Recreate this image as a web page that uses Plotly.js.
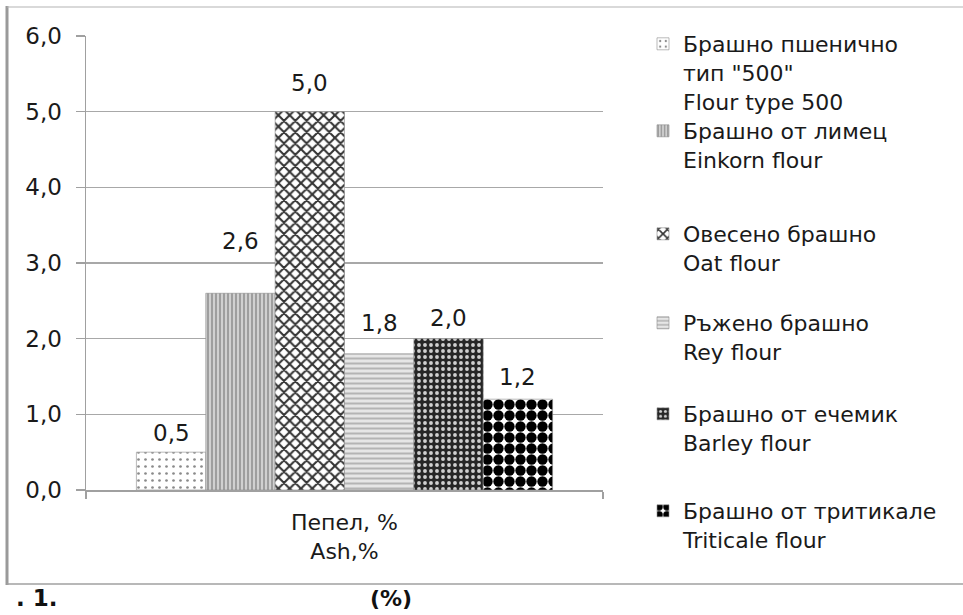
<!DOCTYPE html>
<html>
<head>
<meta charset="utf-8">
<script src="https://cdn.plot.ly/plotly-3.0.1.min.js"></script>
<style>
  html, body { margin: 0; padding: 0; background: #fff; }
  #chart { width: 963px; height: 615px; }
</style>
</head>
<body>
<div id="chart"></div>
<script>
// Ash content of six flours (%)
const category = ['Пепел, %<br>Ash,%'];
const flourNames = [
  'Брашно пшенично<br>тип "500"<br>Flour type 500',
  'Брашно от лимец<br>Einkorn flour',
  'Овесено брашно<br>Oat flour',
  'Ръжено брашно<br>Rey flour',
  'Брашно от ечемик<br>Barley flour',
  'Брашно от тритикале<br>Triticale flour'
];
const ashValues = [0.5, 2.6, 5.0, 1.8, 2.0, 1.2];
const yTickValues = [0, 1, 2, 3, 4, 5, 6];
const captionLeft = '. 1.';
const captionRight = '(%)';

// Monochrome hatch fills, one per flour
const fills = [
  { shape: '.', fgcolor: '#8a8a8a', bgcolor: '#ffffff', size: 7, solidity: 0.12 },
  { shape: '|', fgcolor: '#999999', bgcolor: '#d0d0d0', size: 4, solidity: 0.45 },
  { shape: 'x', fgcolor: '#333333', bgcolor: '#ffffff', size: 8, solidity: 0.45 },
  { shape: '-', fgcolor: '#b4b4b4', bgcolor: '#e6e6e6', size: 5, solidity: 0.4 },
  { shape: '.', fgcolor: '#d0d0d0', bgcolor: '#262626', size: 6, solidity: 0.32 },
  { shape: '.', fgcolor: '#000000', bgcolor: '#ffffff', size: 11, solidity: 0.7 }
];

// Plot-area geometry in pixels, used to place page furniture
const W = 963, H = 615;
const plotL = 86, plotR = 603, plotT = 36, plotB = 490;
const px = v => (v - plotL) / (plotR - plotL);
const py = v => (plotB - v) / (plotB - plotT);

const FONT = 'DejaVu Sans, Arial, sans-serif';
const fmt = v => v.toFixed(1).replace('.', ',');

const BARGAP = 0.195;
const barWidth = (1 - BARGAP) / flourNames.length;
// distance (px) of each value label above its bar
const labelLift = [19, 52, 29, 31, 21, 22];
const legendTops = [23, 110, 213, 302, 393, 490];

const traces = flourNames.map((name, i) => ({
  type: 'bar',
  name: name,
  x: category,
  y: [ashValues[i]],
  marker: {
    color: fills[i].bgcolor,
    pattern: Object.assign({ fillmode: 'overlay', fgopacity: 1 }, fills[i]),
    line: { color: '#8c8c8c', width: 0.6 }
  },
  legend: i === 0 ? 'legend' : 'legend' + (i + 1),
  hoverinfo: 'skip'
}));

// Value labels centred over each bar of the group
const valueLabels = ashValues.map((v, i) => ({
  xref: 'x', yref: 'y',
  x: -(1 - BARGAP) / 2 + (i + 0.5) * barWidth,
  y: v,
  yshift: labelLift[i],
  xanchor: 'center', yanchor: 'middle',
  text: fmt(v),
  showarrow: false,
  font: { family: FONT, size: 23, color: '#1a1a1a' }
}));

const layout = {
  width: W,
  height: H,
  margin: { l: plotL, r: W - plotR, t: plotT, b: H - plotB, pad: 0 },
  paper_bgcolor: '#ffffff',
  plot_bgcolor: '#ffffff',
  font: { family: FONT, color: '#1a1a1a' },
  barmode: 'group',
  bargap: BARGAP,
  bargroupgap: 0,
  separators: ', ',
  showlegend: true,
  xaxis: {
    type: 'category',
    showline: true,
    linecolor: '#a0a0a0',
    linewidth: 1.5,
    ticks: 'outside',
    tickson: 'boundaries',
    ticklen: 7,
    tickcolor: '#a0a0a0',
    tickwidth: 1.5,
    ticklabelstandoff: 12,
    tickfont: { family: FONT, size: 22, color: '#1a1a1a' },
    showgrid: false,
    fixedrange: true
  },
  yaxis: {
    range: [0, 6],
    tickvals: yTickValues,
    ticktext: yTickValues.map(fmt),
    showline: true,
    linecolor: '#a0a0a0',
    linewidth: 1.5,
    ticks: 'outside',
    ticklen: 9,
    tickcolor: '#a0a0a0',
    tickwidth: 1.5,
    ticklabelstandoff: 9,
    tickfont: { family: FONT, size: 23, color: '#1a1a1a' },
    showgrid: true,
    gridcolor: '#a8a8a8',
    gridwidth: 1.5,
    zeroline: false,
    fixedrange: true
  },
  shapes: [
    { type: 'line', xref: 'paper', yref: 'paper', x0: px(7), x1: px(7), y0: py(6), y1: py(585),
      line: { color: '#9a9a9a', width: 3 } },
    { type: 'line', xref: 'paper', yref: 'paper', x0: px(7), x1: px(W + 5), y0: py(7), y1: py(7),
      line: { color: '#b4b4b4', width: 1.2 } },
    { type: 'line', xref: 'paper', yref: 'paper', x0: px(7), x1: px(W + 5), y0: py(584), y1: py(584),
      line: { color: '#a0a0a0', width: 1.5 } }
  ],
  annotations: valueLabels.concat([
    { xref: 'paper', yref: 'paper', x: px(14), y: py(598), xanchor: 'left', yanchor: 'middle',
      text: '<b>' + captionLeft + '</b>', showarrow: false,
      font: { family: FONT, size: 23, color: '#111' } },
    { xref: 'paper', yref: 'paper', x: px(391), y: py(598), xanchor: 'center', yanchor: 'middle',
      text: '<b>' + captionRight + '</b>', showarrow: false,
      font: { family: FONT, size: 22, color: '#111' } }
  ])
};

// One legend box per flour so each entry sits at its own height
legendTops.forEach((top, i) => {
  const key = i === 0 ? 'legend' : 'legend' + (i + 1);
  layout[key] = {
    x: px(643),
    y: py(top),
    xanchor: 'left',
    yanchor: 'top',
    bgcolor: 'rgba(0,0,0,0)',
    borderwidth: 0,
    valign: 'top',
    itemclick: false,
    itemdoubleclick: false,
    font: { family: FONT, size: 22, color: '#1a1a1a' }
  };
});

Plotly.newPlot('chart', traces, layout, { displayModeBar: false, staticPlot: true });
</script>
</body>
</html>
